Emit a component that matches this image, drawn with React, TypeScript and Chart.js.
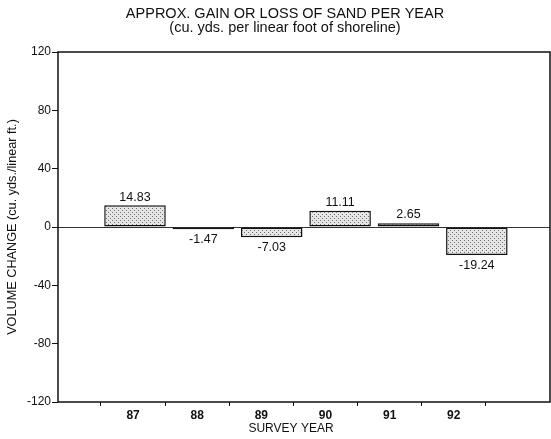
import React, { useEffect, useRef } from "react";
import { Chart, registerables } from "chart.js";

Chart.register(...registerables);

const TITLE = "APPROX. GAIN OR LOSS OF SAND PER YEAR";
const SUBTITLE = "(cu. yds. per linear foot of shoreline)";
const X_TITLE = "SURVEY YEAR";
const Y_TITLE = "VOLUME CHANGE (cu. yds./linear ft.)";

const YEARS = [87, 88, 89, 90, 91, 92];
const VALUES = [14.83, -1.47, -7.03, 11.11, 2.65, -19.24];
const Y_MIN = -120;
const Y_MAX = 120;
const Y_STEP = 40;

const FONT = "'Liberation Sans', Arial, Helvetica, sans-serif";
const INK = "#111";

function makePattern(): CanvasPattern | string {
  const tile = document.createElement("canvas");
  tile.width = 4;
  tile.height = 4;
  const t = tile.getContext("2d");
  if (!t) return "#c8c8c8";
  t.fillStyle = "#e6e6e6";
  t.fillRect(0, 0, 4, 4);
  t.fillStyle = "#707070";
  t.fillRect(0, 0, 1, 1);
  t.fillRect(2, 2, 1, 1);
  const p = t.createPattern(tile, "repeat");
  return p || "#c8c8c8";
}

const framePlugin = {
  id: "frame",
  beforeDatasetsDraw(chart: any) {
    const { ctx, chartArea } = chart;
    ctx.save();
    ctx.strokeStyle = INK;
    ctx.lineWidth = 1.5;
    ctx.strokeRect(chartArea.left, chartArea.top, chartArea.right - chartArea.left, chartArea.bottom - chartArea.top);
    ctx.restore();
  },
};

const valueLabelPlugin = {
  id: "valueLabels",
  afterDatasetsDraw(chart: any) {
    const { ctx } = chart;
    const meta = chart.getDatasetMeta(0);
    ctx.save();
    ctx.font = `12.5px ${FONT}`;
    ctx.fillStyle = INK;
    ctx.textAlign = "center";
    meta.data.forEach((bar: any, i: number) => {
      const v = VALUES[i];
      const text = v.toFixed(2);
      if (v >= 0) {
        ctx.textBaseline = "bottom";
        ctx.fillText(text, bar.x, bar.y - 2);
      } else {
        ctx.textBaseline = "top";
        ctx.fillText(text, bar.x, bar.y + 4);
      }
    });
    ctx.restore();
  },
};

const textPlugin = {
  id: "texts",
  afterDraw(chart: any) {
    const { ctx, chartArea } = chart;
    ctx.save();
    ctx.fillStyle = INK;
    ctx.textAlign = "center";
    ctx.textBaseline = "middle";
    ctx.font = `14.5px ${FONT}`;
    ctx.fillText(TITLE, 285, 14);
    ctx.fillText(SUBTITLE, 285, 28);
    ctx.font = `12px ${FONT}`;
    ctx.fillText(X_TITLE, chartArea.left + 233, 429);
    ctx.restore();
  },
};

export default function App() {
  const ref = useRef<HTMLCanvasElement | null>(null);

  useEffect(() => {
    if (!ref.current) return;
    const pattern = makePattern();
    const points = YEARS.map((x, i) => ({ x, y: VALUES[i] }));
    const labelTicks: number[] = [];
    YEARS.forEach((y) => {
      labelTicks.push(y - 0.5);
      labelTicks.push(y);
    });
    labelTicks.push(YEARS[YEARS.length - 1] + 0.5);

    const chart = new Chart(ref.current, {
      type: "bar",
      data: {
        datasets: [
          {
            data: points as any,
            xAxisID: "x",
            yAxisID: "y",
            backgroundColor: pattern as any,
            borderColor: INK,
            borderWidth: 1.5,
            borderSkipped: false,
            barPercentage: 0.9,
            categoryPercentage: 1,
          },
        ],
      },
      options: {
        responsive: false,
        animation: false,
        layout: { padding: { top: 52, right: 1, bottom: 0, left: 0 } },
        plugins: {
          legend: { display: false },
          tooltip: { enabled: false },
          title: { display: false },
        },
        scales: {
          x: {
            type: "linear",
            display: false,
            offset: false,
            min: 85.874,
            max: 93.07,
            grid: { offset: false },
          },
          x2: {
            type: "linear",
            position: "bottom",
            offset: false,
            min: 85.83,
            max: 93.5,
            afterBuildTicks: (axis: any) => {
              axis.ticks = labelTicks.map((value) => ({ value }));
            },
            afterFit: (axis: any) => {
              axis.height = 37;
            },
            border: { display: false },
            grid: {
              offset: false,
              drawOnChartArea: false,
              drawTicks: true,
              tickLength: 4,
              color: (c: any) => (Number.isInteger(c.tick?.value) ? "rgba(0,0,0,0)" : INK),
              tickColor: (c: any) => (Number.isInteger(c.tick?.value) ? "rgba(0,0,0,0)" : INK),
            },
            ticks: {
              autoSkip: false,
              maxRotation: 0,
              padding: 2,
              color: INK,
              font: { family: FONT, size: 12, weight: "bold" },
              callback: (value: any) => (Number.isInteger(value) ? String(value) : ""),
            },
          },
          y: {
            type: "linear",
            min: Y_MIN,
            max: Y_MAX,
            afterFit: (axis: any) => {
              axis.width = 58;
            },
            border: { display: false },
            grid: {
              drawOnChartArea: true,
              drawTicks: true,
              tickLength: 6,
              lineWidth: 1,
              color: (c: any) => (c.tick && c.tick.value === 0 ? "#333" : "rgba(0,0,0,0)"),
              tickColor: INK,
            },
            ticks: {
              stepSize: Y_STEP,
              padding: 1,
              color: INK,
              font: { family: FONT, size: 12 },
            },
            title: {
              display: true,
              text: Y_TITLE,
              color: INK,
              font: { family: FONT, size: 12.7 },
              padding: { top: 5, bottom: 0 },
            },
          },
        },
      },
      plugins: [framePlugin, valueLabelPlugin, textPlugin],
    });
    return () => chart.destroy();
  }, []);

  return (
    <div style={{ position: "fixed", left: 0, top: 0, width: 551, height: 439, background: "#fff" }}>
      <canvas ref={ref} width={551} height={439} style={{ display: "block" }} />
    </div>
  );
}
